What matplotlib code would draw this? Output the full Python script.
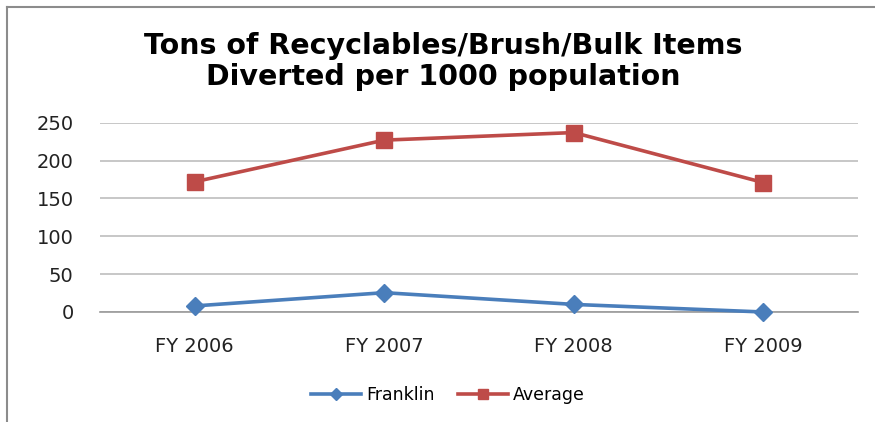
import matplotlib.pyplot as plt
from matplotlib.lines import Line2D

# values
years = ["FY 2006", "FY 2007", "FY 2008", "FY 2009"]
franklin = [8, 25.5, 10, 0]
average = [172, 227, 237, 171]
y_ticks = [0, 50, 100, 150, 200, 250]

fig = plt.figure(figsize=(8.75, 4.22), dpi=100)
ax = fig.add_axes([0.1143, 0.2607, 0.8663, 0.4485])

x = range(len(years))
ax.plot(x, franklin, color="#4A7EBB", lw=2.6, marker="D", ms=9,
        label="Franklin", clip_on=False, zorder=3)
ax.plot(x, average, color="#BE4B48", lw=2.6, marker="s", ms=11,
        label="Average", clip_on=False, zorder=3)

ax.set_xlim(-0.5, 3.5)
ax.set_ylim(0, 250)
ax.set_yticks(y_ticks)
ax.set_xticks(list(x))
ax.set_xticklabels(years)
ax.grid(axis="y", color="#BEBEBE", lw=1.2)
ax.set_axisbelow(True)
for s in ["top", "right", "left"]:
    ax.spines[s].set_visible(False)
ax.spines["bottom"].set_color("#9A9A9A")
ax.spines["bottom"].set_linewidth(1.2)
ax.tick_params(length=0, labelsize=14, colors="#222222")
ax.tick_params(axis="x", pad=18)
ax.tick_params(axis="y", pad=19)

fig.text(0.506, 0.855, "Tons of Recyclables/Brush/Bulk Items\nDiverted per 1000 population",
         ha="center", va="center", fontsize=20.5, fontweight="bold",
         family="DejaVu Sans", linespacing=1.12)

fig.legend(loc="center", bbox_to_anchor=(0.512, 0.064), ncol=2, frameon=False,
           fontsize=12.5, handlelength=2.9, columnspacing=1.3, handletextpad=0.3,
           markerscale=0.7)

# chart border (left and top edges visible)
fig.add_artist(Line2D([0.008, 0.008], [0, 0.983], transform=fig.transFigure,
                      color="#8C8C8C", lw=1.5))
fig.add_artist(Line2D([0.008, 1], [0.983, 0.983], transform=fig.transFigure,
                      color="#8C8C8C", lw=1.5))

fig.savefig("out.png", dpi=100)
